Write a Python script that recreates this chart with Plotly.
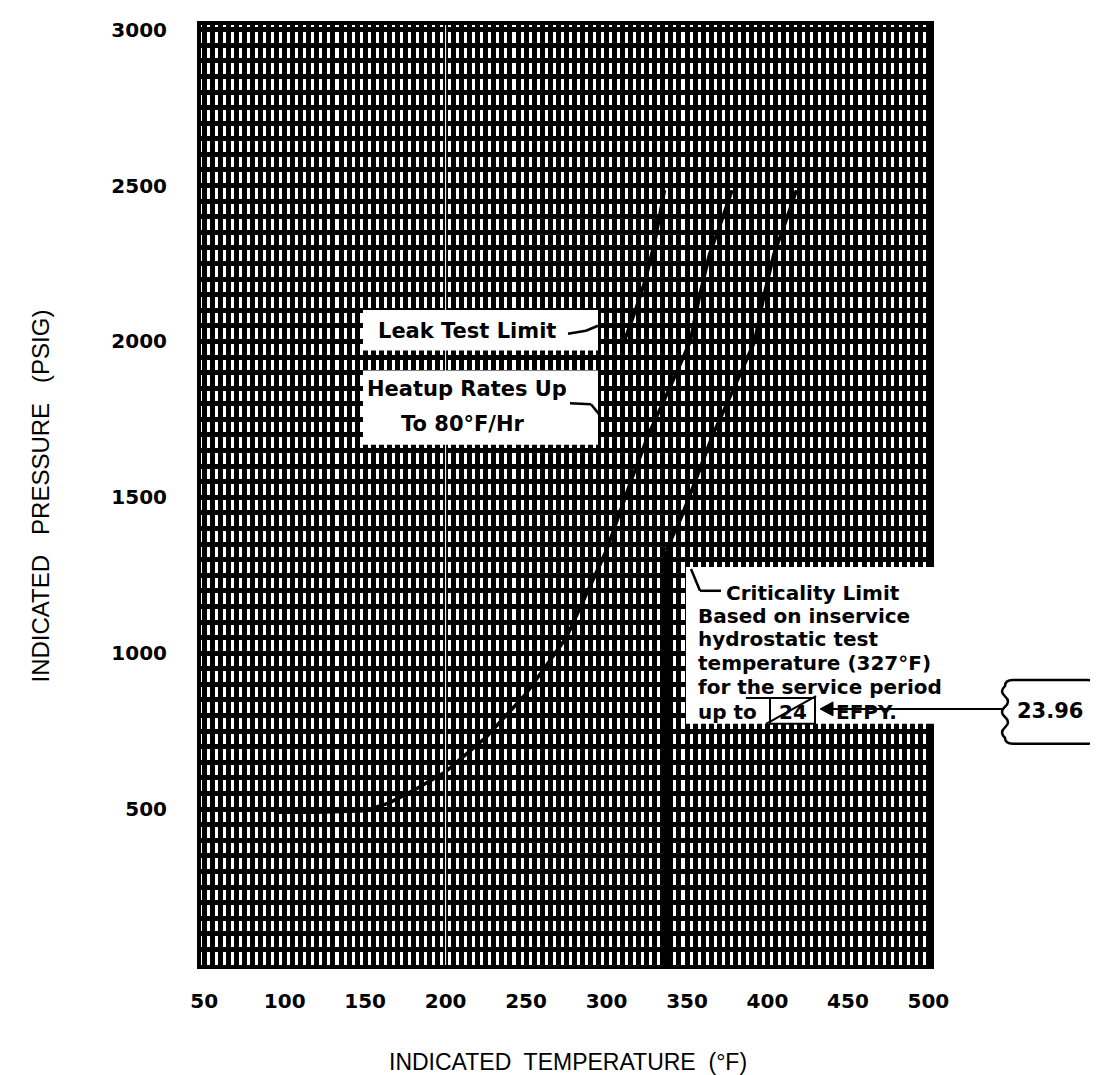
import plotly.graph_objects as go

# ---------------- data ----------------
heatup_T = [95, 120, 150, 165, 180, 200, 225, 250, 275, 300, 315, 326, 340, 352, 358, 364, 371, 378]
heatup_P = [490, 490, 495, 520, 560, 620, 730, 870, 1050, 1330, 1550, 1700, 1860, 2000, 2150, 2280, 2380, 2485]

leak_T = [311, 318, 324, 330, 336]
leak_P = [2000, 2100, 2195, 2320, 2485]

crit_vert_T = [337, 337]
crit_vert_P = [0, 1330]
crit_T = [337, 346, 355, 366, 380, 392, 398, 404, 411, 418]
crit_P = [1330, 1430, 1550, 1700, 1860, 2000, 2150, 2280, 2380, 2485]

x_ticks = [50, 100, 150, 200, 250, 300, 350, 400, 450, 500]
y_ticks = [500, 1000, 1500, 2000, 2500, 3000]

X_RANGE = [48, 501]
Y_RANGE = [0, 3015]

# plot area in pixels
L, R, T, B = 193, 922, 10, 957
W, H = 1098, 1075


def px(x):
    return (x - L) / (R - L)


def py(y):
    return (B - y) / (B - T)


fig = go.Figure()

line_style = dict(color="black", width=3.5)
fig.add_trace(go.Scatter(x=heatup_T, y=heatup_P, mode="lines", line=line_style, hoverinfo="skip"))
fig.add_trace(go.Scatter(x=leak_T, y=leak_P, mode="lines", line=line_style, hoverinfo="skip"))
fig.add_trace(go.Scatter(x=crit_T, y=crit_P, mode="lines", line=line_style, hoverinfo="skip"))
fig.add_trace(go.Scatter(x=crit_vert_T, y=crit_vert_P, mode="lines",
                         line=dict(color="black", width=10), hoverinfo="skip"))

shapes = []
# thin white major line at 200 F
shapes.append(dict(type="line", xref="x", yref="y", x0=200, x1=200, y0=Y_RANGE[0], y1=Y_RANGE[1],
                   line=dict(color="white", width=1), layer="above"))


def wrect(x0, y0, x1, y1):
    return dict(type="rect", xref="paper", yref="paper",
                x0=px(x0), x1=px(x1), y0=py(y1), y1=py(y0),
                fillcolor="white", line=dict(width=0), layer="above")


# label boxes
shapes.append(wrect(355, 297, 590, 338))
shapes.append(wrect(355, 358, 590, 433))
shapes.append(wrect(678, 556, 930, 714))


def seg(x0, y0, x1, y1, w=2.5):
    return dict(type="line", xref="paper", yref="paper", x0=px(x0), y0=py(y0), x1=px(x1), y1=py(y1),
                line=dict(color="black", width=w), layer="above")


# leaders
shapes.append(seg(560, 321, 578, 318))
shapes.append(seg(578, 318, 590, 313))
shapes.append(seg(562, 391, 583, 392))
shapes.append(seg(583, 392, 591, 402))
shapes.append(seg(683, 558, 692, 580))
shapes.append(seg(692, 580, 713, 580))
# 24 box + revision marks
shapes.append(dict(type="rect", xref="paper", yref="paper", x0=px(762), x1=px(807), y0=py(714), y1=py(688),
                   line=dict(color="black", width=2), fillcolor="rgba(0,0,0,0)", layer="above"))
shapes.append(seg(758, 714, 808, 686, 2))
shapes.append(seg(738, 688, 807, 688, 2))
# arrow line to callout
shapes.append(seg(822, 699, 995, 699, 2))
shapes.append(dict(type="path", xref="paper", yref="paper",
                   path=f"M {px(812)},{py(699)} L {px(825)},{py(692)} L {px(825)},{py(706)} Z",
                   fillcolor="black", line=dict(color="black", width=1), layer="above"))
# callout box with wavy sides
cx0, cx1, cy0, cy1 = 997, 1088, 670, 734
n = 5
seglen = (cy1 - cy0 - 12) / n
path = f"M {px(cx0 + 8)},{py(cy0)} L {px(cx1 - 8)},{py(cy0)} "
path += f"Q {px(cx1)},{py(cy0)} {px(cx1)},{py(cy0 + 6)} "
for i in range(n):
    ya = cy0 + 6 + i * seglen
    yb = ya + seglen
    path += f"Q {px(cx1 + 6 * (1 if i % 2 == 0 else -1))},{py((ya + yb) / 2)} {px(cx1)},{py(yb)} "
path += f"Q {px(cx1)},{py(cy1)} {px(cx1 - 8)},{py(cy1)} L {px(cx0 + 8)},{py(cy1)} "
path += f"Q {px(cx0)},{py(cy1)} {px(cx0)},{py(cy1 - 6)} "
for i in range(n):
    ya = cy1 - 6 - i * seglen
    yb = ya - seglen
    path += f"Q {px(cx0 - 6 * (1 if i % 2 == 0 else -1))},{py((ya + yb) / 2)} {px(cx0)},{py(yb)} "
path += f"Q {px(cx0)},{py(cy0)} {px(cx0 + 8)},{py(cy0)} Z"
shapes.append(dict(type="path", xref="paper", yref="paper", path=path,
                   fillcolor="white", line=dict(color="black", width=2.5), layer="above"))

FONT = "DejaVu Sans"
ann = []


def txt(x, y, s, size=21, anchor="left", bold=True):
    ann.append(dict(xref="paper", yref="paper", x=px(x), y=py(y), text=s, showarrow=False,
                    xanchor=anchor, yanchor="middle",
                    font=dict(family=FONT, size=size, color="black", weight="bold" if bold else "normal")))


txt(459, 318, "Leak Test Limit", anchor="center")
txt(459, 377, "Heatup Rates Up", anchor="center")
txt(455, 412, "To 80°F/Hr", anchor="center")
txt(716, 582, "Criticality Limit", size=20)
txt(688, 605, "Based on inservice", size=20)
txt(688, 629, "hydrostatic test", size=20)
txt(688, 653, "temperature (327°F)", size=20)
txt(688, 677, "for the service period", size=20)
txt(688, 702, "up to", size=20)
txt(785, 702, "24", size=20, anchor="center")
txt(826, 702, "EFPY.", size=20)
txt(1042, 701, "23.96", size=21, anchor="center")

# axis titles
ann.append(dict(xref="paper", yref="paper", x=px(560), y=py(1055), text="INDICATED  TEMPERATURE  (°F)",
                showarrow=False, xanchor="center", yanchor="middle",
                font=dict(family="Liberation Sans", size=23, color="black")))
ann.append(dict(xref="paper", yref="paper", x=px(32), y=py(485), text="INDICATED   PRESSURE   (PSIG)",
                showarrow=False, xanchor="center", yanchor="middle", textangle=-90,
                font=dict(family="Liberation Sans", size=24, color="black")))

fig.update_layout(
    width=W, height=H,
    margin=dict(l=L, r=W - R, t=T, b=H - B),
    paper_bgcolor="white", plot_bgcolor="white",
    showlegend=False,
    shapes=shapes, annotations=ann,
    font=dict(family=FONT, color="black"),
)
fig.update_xaxes(range=X_RANGE, tickmode="array", tickvals=x_ticks, ticktext=[str(v) for v in x_ticks],
                 showgrid=True, gridcolor="black", gridwidth=5,
                 minor=dict(tick0=50, dtick=5, showgrid=True, gridcolor="black", gridwidth=5),
                 ticks="outside", ticklen=15, tickcolor="white",
                 tickfont=dict(family=FONT, size=20, color="black", weight="bold"),
                 showline=True, linecolor="black", linewidth=4, mirror=True, zeroline=False)
fig.update_yaxes(range=Y_RANGE, tickmode="array", tickvals=y_ticks, ticktext=[str(v) for v in y_ticks],
                 showgrid=True, gridcolor="black", gridwidth=5,
                 minor=dict(tick0=0, dtick=50, showgrid=True, gridcolor="black", gridwidth=5),
                 ticks="outside", ticklen=26, tickcolor="white",
                 tickfont=dict(family=FONT, size=20, color="black", weight="bold"),
                 showline=True, linecolor="black", linewidth=4, mirror=True, zeroline=False)

fig.write_html("out.html")
